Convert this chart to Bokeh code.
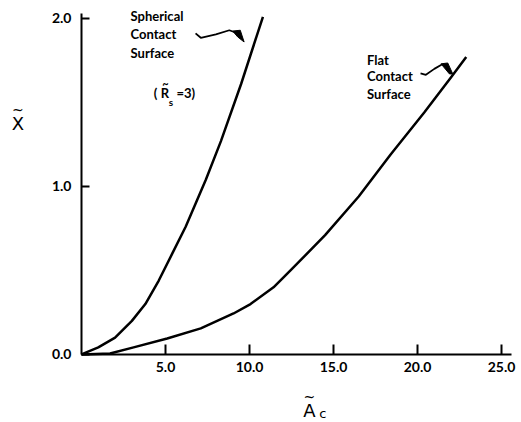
from bokeh.plotting import figure
from bokeh.models import FixedTicker, NumeralTickFormatter, Range1d, LinearAxis
from bokeh.core.properties import value
from bokeh.embed import file_html
from bokeh.resources import INLINE

# Data
spherical_x = [0.0, 1.0, 2.0, 3.0, 3.8, 4.6, 5.4, 6.2, 6.8, 7.4, 8.3, 9.5, 10.8]
spherical_y = [0.0, 0.042, 0.10, 0.20, 0.30, 0.44, 0.60, 0.76, 0.90, 1.04, 1.27, 1.61, 2.01]
flat_x = [0.0, 1.7, 3.1, 5.1, 7.1, 9.05, 10.06, 11.43, 12.44, 14.5, 16.5, 18.4, 20.4, 22.0, 22.9]
flat_y = [0.0, 0.006, 0.042, 0.095, 0.155, 0.244, 0.30, 0.40, 0.50, 0.71, 0.94, 1.19, 1.44, 1.65, 1.77]
x_ticks = [5, 10, 15, 20, 25]
y_ticks = [0, 1, 2]

FONT = "Lato"

p = figure(width=521, height=422, output_backend="svg", toolbar_location=None,
           x_range=Range1d(-4.821, 26.19), y_range=Range1d(-0.405, 2.107),
           x_axis_type=None, y_axis_type=None,
           min_border_left=0, min_border_right=0, min_border_top=0, min_border_bottom=0)
p.outline_line_color = None
p.grid.visible = False
p.background_fill_color = "white"

xax = LinearAxis(fixed_location=0, bounds=(0, 25.6), ticker=FixedTicker(ticks=x_ticks))
yax = LinearAxis(fixed_location=0, bounds=(0, 2.03), ticker=FixedTicker(ticks=y_ticks))
for ax in (xax, yax):
    ax.axis_line_width = 2
    ax.axis_line_color = "black"
    ax.major_tick_line_width = 2
    ax.major_tick_out = 0
    ax.minor_tick_line_color = None
    ax.major_label_text_font = FONT
    ax.major_label_text_font_size = "14px"
    ax.major_label_text_font_style = "bold"
    ax.major_label_text_color = "black"
    ax.formatter = NumeralTickFormatter(format="0.0")
xax.major_tick_in = 10
yax.major_tick_in = 8
xax.major_label_standoff = 8
yax.major_label_standoff = 10
p.add_layout(xax, "below")
p.add_layout(yax, "left")

p.line(spherical_x, spherical_y, line_color="black", line_width=2.5, line_join="round")
p.line(flat_x, flat_y, line_color="black", line_width=2.5, line_join="round")


def lab(x, y, t, size="13px", bold=True, align="left", font=FONT, baseline="middle"):
    p.text(x=[x], y=[y], text=[t], text_font=value(font),
           text_font_style="bold" if bold else "normal",
           text_font_size=size, text_color="black",
           text_align=align, text_baseline=baseline)


# annotations
for t, yy in zip(["Spherical", "Contact", "Surface"], [2.015, 1.905, 1.795]):
    lab(2.92, yy, t)
for t, yy in zip(["Flat", "Contact", "Surface"], [1.75, 1.655, 1.55]):
    lab(17.0, yy, t)
lab(4.3, 1.554, "(")
lab(4.72, 1.554, "R")
lab(5.0, 1.612, "~", size="11px", align="center")
lab(5.2, 1.505, "s", size="10px")
lab(5.65, 1.554, "=3)")

# leader lines
p.line([6.79, 7.1, 8.0, 8.8, 9.2], [1.911, 1.885, 1.905, 1.93, 1.915],
       line_color="black", line_width=1.8)
p.patch([9.0, 9.45, 9.68, 9.3], [1.925, 1.93, 1.86, 1.89], fill_color="black", line_color="black")
p.line([20.18, 20.5, 21.0, 21.45], [1.673, 1.665, 1.70, 1.726],
       line_color="black", line_width=1.8)
p.patch([21.4, 21.8, 22.1, 21.9], [1.73, 1.735, 1.67, 1.67], fill_color="black", line_color="black")

# axis labels
lab(-3.78, 1.375, "X", size="18px", bold=False, align="center",
    font="DejaVu Sans", baseline="alphabetic")
lab(-3.78, 1.455, "~", size="14px", bold=False, align="center", font="DejaVu Sans")
lab(13.57, -0.333, "A", size="18px", bold=False, align="center",
    font="DejaVu Sans", baseline="alphabetic")
lab(13.57, -0.255, "~", size="14px", bold=False, align="center", font="DejaVu Sans")
lab(14.15, -0.352, "c", size="13px", bold=False, font="DejaVu Sans", baseline="alphabetic")

open("out.html", "w").write(file_html(p, INLINE))
